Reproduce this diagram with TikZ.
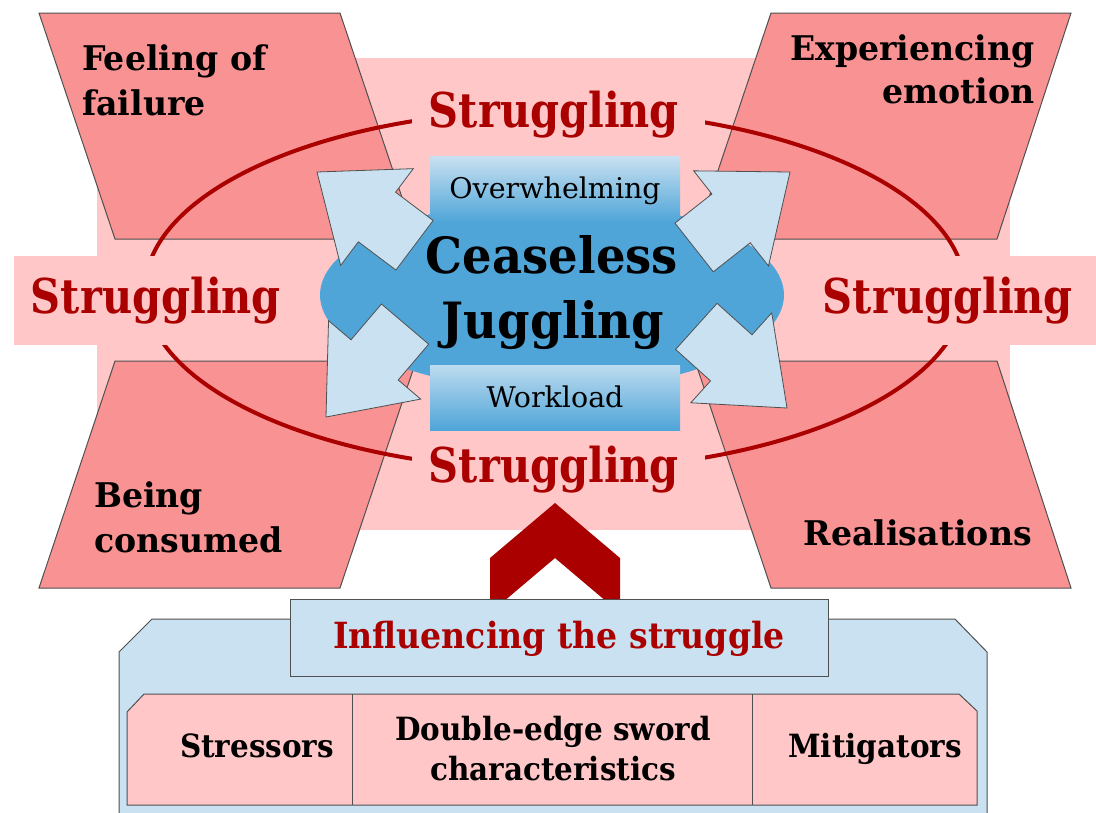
\documentclass[tikz,border=0pt]{standalone}
\usepackage{fontspec}
\setmainfont{DejaVu Serif}
\newfontfamily\fsStrug[FakeStretch=0.865]{DejaVu Serif}
\newfontfamily\fsCeas[FakeStretch=0.93]{DejaVu Serif}
\newfontfamily\fsCell[FakeStretch=0.92]{DejaVu Serif}
\newfontfamily\fsCorner[FakeStretch=0.975]{DejaVu Serif}
\usetikzlibrary{calc}
\definecolor{bgpink}{RGB}{255,199,199}
\definecolor{salmon}{RGB}{249,146,146}
\definecolor{dred}{RGB}{170,0,0}
\definecolor{lblue}{RGB}{201,225,241}
\definecolor{eblue}{RGB}{79,165,216}
\definecolor{bgray}{RGB}{80,80,80}
\tikzset{
  para/.style={fill=salmon, draw=bgray, line width=1pt},
  strug/.style={text=dred, font=\fsStrug\bfseries\fontsize{48}{48}\selectfont, inner sep=0pt, anchor=base},
  corner/.style={text=black, font=\fsCorner\bfseries\fontsize{34}{34}\selectfont, inner sep=0pt},
  bigarrow/.style={fill=lblue, draw=bgray, line width=0.8pt, line join=miter},
  boxtext/.style={font=\fontsize{28.5}{28.5}\selectfont, inner sep=0pt, anchor=base},
  cellt/.style={font=\fsCell\bfseries\fontsize{32}{32}\selectfont, inner sep=0pt, anchor=base},
  ceas/.style={font=\fsCeas\bfseries\fontsize{50}{50}\selectfont, inner sep=0pt, anchor=base},
}
\newcommand{\blockarrow}[3]{%
  \begin{scope}[shift={(#1,#2)}, rotate=#3]
    \draw[bigarrow] (0,0) -- (-75,60.5) -- (-75,31) -- (-122,31) -- (-122,-31) -- (-75,-31) -- (-75,-60.5) -- cycle;
  \end{scope}}
\begin{document}
\begin{tikzpicture}[x=1pt,y=-1pt]
\useasboundingbox (0,0) rectangle (1096,812);
\clip (0,0) rectangle (1096,812);
% pink background
\fill[bgpink] (97,58) rectangle (1010,530);
% parallelograms
\draw[para] (39,13) -- (340,13) -- (416,239) -- (115,239) -- cycle;
\draw[para] (771,13) -- (1071,13) -- (997,239) -- (695,239) -- cycle;
\draw[para] (115,361) -- (416,361) -- (340,588) -- (39,588) -- cycle;
\draw[para] (695,361) -- (997,361) -- (1071,588) -- (771,588) -- cycle;
% corner texts
\node[corner, anchor=base west] (f1) at (82,70) {Feeling of};
\node[corner, anchor=base west] (f2) at (82,115) {failure};
\node[corner, anchor=base east] (e1) at (1035,60) {Experiencing};
\node[corner, anchor=base east] (e2) at (1035,103) {emotion};
\node[corner, anchor=base west] (b1) at (94,507) {Being};
\node[corner, anchor=base west] (b2) at (94,552) {consumed};
\node[corner, anchor=base east] (r1) at (1032,545) {Realisations};
% struggling cycle
\draw[dred, line width=4pt] (555,290) ellipse [x radius=410, y radius=180];
\fill[bgpink] (14,256) rectangle (1096,345);
\fill[bgpink] (412,86) rectangle (705,140);
\fill[bgpink] (412,441) rectangle (705,494);
\node[strug] (st) at (554,127) {Struggling};
\node[strug] (sb) at (554,482) {Struggling};
\node[strug] (sl) at (156,313) {Struggling};
\node[strug] (sr) at (948,313) {Struggling};
% central blob
\fill[eblue] (552,295) ellipse [x radius=232, y radius=95];
\shade[top color=lblue, bottom color=eblue] (430,156) rectangle (680,222);
\shade[top color=lblue!90!eblue, bottom color=eblue] (430,365) rectangle (680,430);
\node[boxtext] (ov) at (555,198) {Overwhelming};
\node[boxtext] (wl) at (555,407) {Workload};
\node[ceas] (c1) at (552,273) {Ceaseless};
\node[ceas] (c2) at (553,338) {Juggling};
% arrows
\blockarrow{317}{172}{143.1}
\blockarrow{790}{172}{38.2}
\blockarrow{326}{417}{229.6}
\blockarrow{787}{408}{-42}
% chevron
\fill[dred] (490,613) -- (490,558) -- (555,503) -- (620,558) -- (620,613) -- (555,558) -- cycle;
% bottom container
\draw[fill=lblue, draw=bgray, line width=1pt] (119,830) -- (119,652) -- (152,619) -- (955,619) -- (987,652) -- (987,830);
\draw[fill=lblue, draw=bgray, line width=1pt] (290,599) rectangle (828,676);
\node[text=dred, font=\fsCell\bfseries\fontsize{36}{36}\selectfont, inner sep=0pt, anchor=base] (inf) at (559,648) {Influencing the struggle};
\draw[fill=bgpink, draw=bgray, line width=1pt] (127,805) -- (127,712) -- (144,694) -- (959,694) -- (977,711) -- (977,805) -- cycle;
\draw[draw=bgray, line width=1pt] (352,694) -- (352,805) (752,694) -- (752,805);
\node[cellt] (s1) at (257,757) {Stressors};
\node[cellt] (d1) at (553,740) {Double-edge sword};
\node[cellt] (d2) at (553,780) {characteristics};
\node[cellt] (m1) at (875,757) {Mitigators};
\end{tikzpicture}
\end{document}
